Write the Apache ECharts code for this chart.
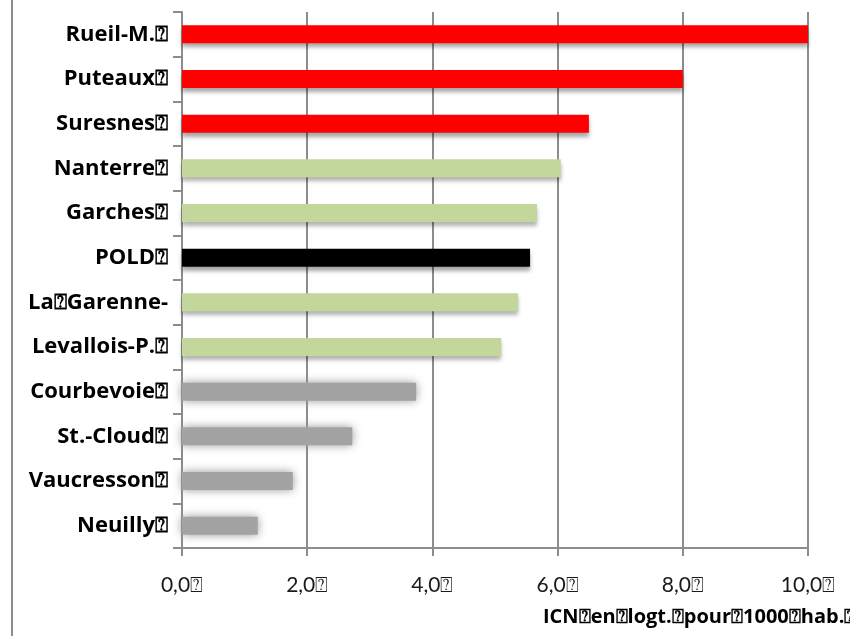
<!DOCTYPE html>
<html>
<head>
<meta charset="utf-8">
<script src="https://cdn.jsdelivr.net/npm/echarts@6/dist/echarts.min.js"></script>
<style>
  html, body { margin: 0; padding: 0; background: #fff; }
  #chart { width: 850px; height: 636px; }
</style>
</head>
<body>
<div id="chart"></div>
<script>
// Communes of the territory, top to bottom
const communes = ['Rueil-M.⍰', 'Puteaux⍰', 'Suresnes⍰', 'Nanterre⍰', 'Garches⍰', 'POLD⍰',
  'La⍰Garenne-', 'Levallois-P.⍰', 'Courbevoie⍰', 'St.-Cloud⍰', 'Vaucresson⍰', 'Neuilly⍰'];
// ICN in dwellings per 1000 inhabitants
const icnValues = [10.0, 8.0, 6.5, 6.05, 5.67, 5.56, 5.37, 5.1, 3.74, 2.72, 1.77, 1.21];
// Bar group of each commune: high, average, territory, low
const groups = ['high', 'high', 'high', 'mid', 'mid', 'total', 'mid', 'mid', 'low', 'low', 'low', 'low'];
const axisTitle = 'ICN⍰en⍰logt.⍰pour⍰1000⍰hab.⍰';

const groupStyle = {
  high: { color: '#ff0000', shadowColor: 'rgba(0,0,0,0.35)', shadowBlur: 4, shadowOffsetY: 4 },
  mid: { color: '#c3d69b', shadowColor: 'rgba(0,0,0,0.3)', shadowBlur: 4, shadowOffsetY: 4 },
  total: { color: '#000000', shadowColor: 'rgba(0,0,0,0.35)', shadowBlur: 4, shadowOffsetY: 4 },
  low: { color: '#a3a3a3', shadowColor: 'rgba(150,150,150,1)', shadowBlur: 10, shadowOffsetY: 0 }
};

const chart = echarts.init(document.getElementById('chart'));
const grey = '#8c8c8c';
chart.setOption({
  animation: false,
  backgroundColor: '#fff',
  grid: { left: 182, right: 42, top: 12, bottom: 88, containLabel: false },
  xAxis: {
    type: 'value', min: 0, max: 10, interval: 2,
    axisLine: { show: true, lineStyle: { color: grey, width: 2 } },
    axisTick: { show: true, length: 8, lineStyle: { color: grey, width: 2 } },
    splitLine: { show: true, lineStyle: { color: grey, width: 2 } },
    axisLabel: {
      margin: 27, color: '#1a1a1a', fontFamily: 'Lato', fontSize: 21,
      formatter: v => v.toFixed(1).replace('.', ',') + '⍰'
    }
  },
  yAxis: {
    type: 'category', data: communes, inverse: true,
    axisLine: { show: true, lineStyle: { color: grey, width: 2 } },
    axisTick: { show: true, length: 9, lineStyle: { color: grey, width: 2 } },
    axisLabel: { margin: 14, color: '#000', fontFamily: 'Open Sans', fontWeight: 'bold', fontSize: 22 }
  },
  series: [{
    type: 'bar',
    barWidth: 18,
    data: icnValues.map((v, i) => ({ value: v, itemStyle: groupStyle[groups[i]] }))
  }],
  graphic: [
    { type: 'line', shape: { x1: 12, y1: 0, x2: 12, y2: 636 }, style: { stroke: grey, lineWidth: 2 } },
    { type: 'text', left: 543, top: 607,
      style: { text: axisTitle, fill: '#000', font: 'bold 20px "Open Sans"' } }
  ]
});
</script>
</body>
</html>
